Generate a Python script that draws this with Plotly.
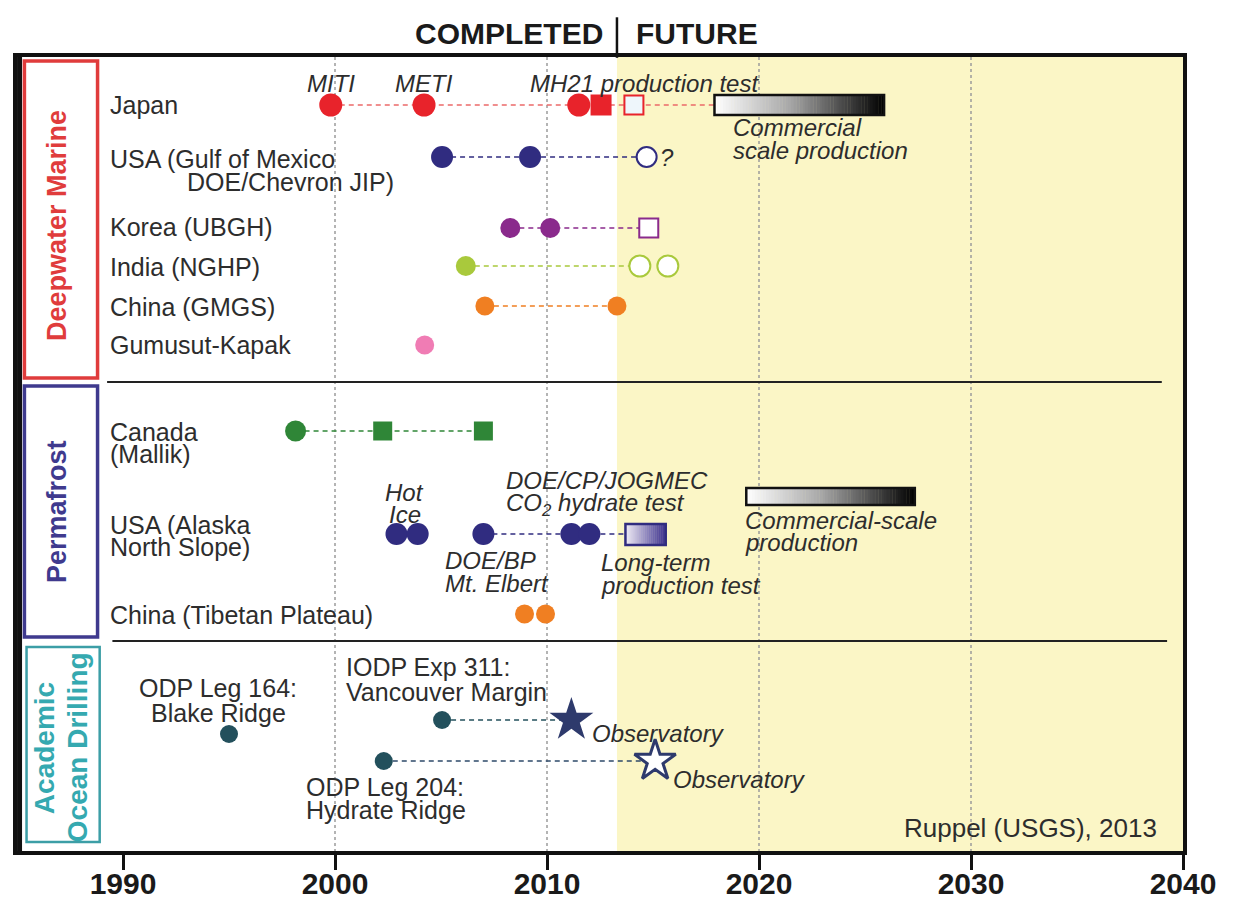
import numpy as np
import plotly.graph_objects as go

# ---------------------------------------------------------------- data (years)
japan_done = [1999.8, 2004.2, 2011.5]
japan_done_sq = [2012.55]
japan_planned_sq = [2014.1]
japan_commercial = [2017.9, 2025.9]

gom_done = [2005.05, 2009.2]
gom_planned = [2014.7]

korea_done = [2008.27, 2010.15]
korea_planned_sq = [2014.8]

india_done = [2006.17]
india_planned = [2014.38, 2015.7]

china_gmgs_done = [2007.07, 2013.3]
gumusut_done = [2004.23]

canada_done = [1998.14]
canada_done_sq = [2002.25, 2007.0]

alaska_hot_ice = [2002.9, 2003.9]
alaska_done = [2007.0, 2011.15, 2012.0]
alaska_longterm = [2013.7, 2015.6]
alaska_commercial = [2019.4, 2027.35]

tibet_done = [2008.94, 2009.93]

blake_ridge_done = [1995.0]
vancouver_done = [2005.05]
vancouver_obs = [2011.15]
hydrate_ridge_done = [2002.3]
hydrate_ridge_obs = [2015.1]

future_start = 2013.3
year_ticks = [1990, 2000, 2010, 2020, 2030, 2040]
grid_years = [2000, 2010, 2020, 2030]

# ---------------------------------------------------------------- layout: lanes
# vertical lane positions (axis runs top-down, 57 = top of the frame)
LANE = {
    "japan": 105, "gom": 157, "korea": 228, "india": 266, "china": 306,
    "gumusut": 345, "canada": 431, "alaska": 534, "tibet": 614,
    "blake": 734, "vancouver": 720, "hydrate": 761,
}

FONT = "Liberation Sans, Arial, sans-serif"
TXT = "#2d2d2d"

RED = "#e8232b"
NAVY = "#302c80"
PURPLE = "#8a2a8c"
LIME = "#a9c93c"
ORANGE = "#f07f22"
PINK = "#f07cb4"
GREEN = "#2f8637"
TEAL_DARK = "#23505c"
STAR = "#2e3a6c"
YELLOW = "#fbf6c6"
DASH = "5px,4px"

fig = go.Figure()

# future half of the timeline
fig.add_trace(go.Scatter(
    x=[future_start, 2040, 2040, future_start, future_start],
    y=[57, 57, 851, 851, 57], mode="lines", fill="toself",
    fillcolor=YELLOW, line=dict(width=0), hoverinfo="skip", showlegend=False))
# dotted decade grid
for g in grid_years:
    fig.add_trace(go.Scatter(
        x=[g, g], y=[57, 851], mode="lines",
        line=dict(color="#9c9c9c", width=1.5, dash="dot"),
        hoverinfo="skip", showlegend=False))


def connector(xs, lane, color, width=1.6):
    fig.add_trace(go.Scatter(
        x=xs, y=[LANE[lane]] * len(xs), mode="lines",
        line=dict(color=color, width=width, dash=DASH),
        hoverinfo="skip", showlegend=False))


def dots(xs, lane, color, symbol="circle", size=21, fill=None, lw=0):
    fig.add_trace(go.Scatter(
        x=xs, y=[LANE[lane]] * len(xs), mode="markers",
        marker=dict(symbol=symbol, size=size, color=fill or color,
                    line=dict(color=color, width=lw)),
        hoverinfo="x", showlegend=False))


def hex_rgb(h):
    h = h.lstrip("#")
    return np.array([int(h[i:i + 2], 16) for i in (0, 2, 4)], dtype=float)


def ramp_color(stops, t):
    for (t0, c0), (t1, c1) in zip(stops[:-1], stops[1:]):
        if t <= t1:
            f = (t - t0) / (t1 - t0) if t1 > t0 else 0
            c = hex_rgb(c0) * (1 - f) + hex_rgb(c1) * f
            return "rgb(%d,%d,%d)" % tuple(np.round(c))
    return stops[-1][1]


shapes = []


def gradient_bar(x_edges, y0, y1, stops, border, bw=2.5, n=60):
    """Horizontal colour ramp drawn as thin slices, then outlined."""
    edges = np.linspace(x_edges[0], x_edges[1], n + 1)
    for i in range(n):
        col = ramp_color(stops, (i + 0.5) / n)
        shapes.append(dict(type="rect", xref="x", yref="y", x0=edges[i],
                           x1=edges[i + 1] + 0.02, y0=y0, y1=y1, fillcolor=col,
                           line=dict(width=0), layer="above"))
    shapes.append(dict(type="rect", xref="x", yref="y", x0=x_edges[0], x1=x_edges[1],
                       y0=y0, y1=y1, line=dict(color=border, width=bw), layer="above"))


# ---------------------------------------------------------------- connectors
connector([japan_done[0], japan_commercial[0]], "japan", "#ec6a6a")
connector([gom_done[0], gom_planned[-1]], "gom", NAVY)
connector([korea_done[0], korea_planned_sq[-1]], "korea", PURPLE)
connector([india_done[0], india_planned[0]], "india", LIME)
connector([china_gmgs_done[0], china_gmgs_done[-1]], "china", ORANGE)
connector([canada_done[0], canada_done_sq[-1]], "canada", GREEN)
connector([alaska_done[0], alaska_longterm[0]], "alaska", NAVY)
connector([vancouver_done[0], vancouver_obs[0]], "vancouver", TEAL_DARK)
connector([hydrate_ridge_done[0], hydrate_ridge_obs[0]], "hydrate", "#2e4a6a")

# ---------------------------------------------------------------- gradient bars
gray_stops = [(0, "#ffffff"), (0.45, "#a6a6a6"), (1, "#000000")]
gradient_bar(japan_commercial, 95, 115, gray_stops, "#111111")
gradient_bar(alaska_commercial, 488, 505, gray_stops, "#111111")
gradient_bar(alaska_longterm, 524, 545, [(0, "#f0ecf8"), (1, "#3a2f8c")], NAVY)

# ---------------------------------------------------------------- markers
dots(japan_done, "japan", RED, size=23)
dots(japan_done_sq, "japan", RED, symbol="square", size=21)
dots(japan_planned_sq, "japan", RED, symbol="square", size=19, fill="#eef6fb", lw=2)

dots(gom_done, "gom", NAVY, size=22)
dots(gom_planned, "gom", NAVY, size=20, fill="white", lw=2)

dots(korea_done, "korea", PURPLE, size=20)
dots(korea_planned_sq, "korea", PURPLE, symbol="square", size=19, fill="white", lw=2)

dots(india_done, "india", LIME, size=20)
dots(india_planned, "india", LIME, size=21, fill="white", lw=2)

dots(china_gmgs_done, "china", ORANGE, size=19)
dots(gumusut_done, "gumusut", PINK, size=19)

dots(canada_done, "canada", GREEN, size=21)
dots(canada_done_sq, "canada", GREEN, symbol="square", size=19)

dots(alaska_hot_ice, "alaska", NAVY, size=22)
dots(alaska_done, "alaska", NAVY, size=22)

dots(tibet_done, "tibet", ORANGE, size=19)

dots(blake_ridge_done, "blake", TEAL_DARK, size=18)
dots(vancouver_done, "vancouver", TEAL_DARK, size=18)
dots(hydrate_ridge_done, "hydrate", TEAL_DARK, size=18)
dots(vancouver_obs, "vancouver", STAR, symbol="star", size=33)
dots(hydrate_ridge_obs, "hydrate", STAR, symbol="star", size=31, fill="white", lw=3)

# ---------------------------------------------------------------- other shapes
# section separators
shapes.append(dict(type="line", xref="x", yref="y", x0=1989.25, x1=2039.0, y0=382, y1=382,
                   line=dict(color="#222", width=2)))
shapes.append(dict(type="line", xref="x", yref="y", x0=1989.5, x1=2039.25, y0=641, y1=641,
                   line=dict(color="#222", width=2)))
# section boxes
shapes.append(dict(type="rect", xref="x", yref="y", x0=1985.35, x1=1988.8, y0=61, y1=378,
                   line=dict(color="#e03c3c", width=3.5), fillcolor="white"))
shapes.append(dict(type="rect", xref="x", yref="y", x0=1985.35, x1=1988.8, y0=386, y1=637,
                   line=dict(color="#3f3a8e", width=3.5), fillcolor="white"))
shapes.append(dict(type="rect", xref="x", yref="y", x0=1985.45, x1=1988.9, y0=647, y1=842,
                   line=dict(color="#3c9ea6", width=2.5), fillcolor="white"))
# heavier left edge of the frame
shapes.append(dict(type="line", xref="x", yref="paper", x0=1985.12, x1=1985.12, y0=0, y1=1,
                   line=dict(color="#111", width=5)))
# COMPLETED | FUTURE divider
shapes.append(dict(type="line", xref="x", yref="paper", x0=future_start, x1=future_start,
                   y0=0.999, y1=1.05, line=dict(color="#111", width=2.5)))

ann = []


def note(x, y, lines, size=25, italic=False, xanchor="left", color=TXT,
         pitch=23, **kw):
    """One annotation per text line, so line spacing can be set freely."""
    if isinstance(lines, str):
        lines = [lines]
    for i, t in enumerate(lines):
        ann.append(dict(x=x, y=y + i * pitch, xref="x", yref="y", text=t,
                        showarrow=False, xanchor=xanchor, yanchor="middle",
                        font=dict(family=FONT, size=size, color=color,
                                  style="italic" if italic else "normal"), **kw))


# row labels
note(1989.3, 105, "Japan")
note(1989.3, 159, "USA (Gulf of Mexico")
note(1992.94, 182, "DOE/Chevron JIP)")
note(1989.3, 227, "Korea (UBGH)")
note(1989.3, 267, "India (NGHP)")
note(1989.3, 307, "China (GMGS)")
note(1989.3, 345, "Gumusut-Kapak")
note(1989.3, 432, ["Canada", "(Mallik)"], pitch=22)
note(1989.3, 525, ["USA (Alaska", "North Slope)"], pitch=22)
note(1989.3, 615, "China (Tibetan Plateau)")

# section titles
note(1986.89, 226, "<b>Deepwater Marine</b>", size=27, xanchor="center",
     color="#e03c3c", textangle=-90)
note(1986.89, 512, "<b>Permafrost</b>", size=27, xanchor="center",
     color="#3f3a8e", textangle=-90)
note(1986.28, 748, "<b>Academic</b>", size=28, xanchor="center",
     color="#35a9b0", textangle=-90)
note(1987.84, 747, "<b>Ocean Drilling</b>", size=28, xanchor="center",
     color="#35a9b0", textangle=-90)

# event notes
note(1999.79, 83, "MITI", italic=True, xanchor="center", size=24)
note(2004.19, 83, "METI", italic=True, xanchor="center", size=24)
note(2009.1, 83, "MH21 production test", italic=True, size=24)
note(2018.7, 127, ["Commercial", "scale production"], italic=True, size=24, pitch=23)
note(2015.25, 157, "?", italic=True, size=24)
note(2003.29, 492, ["Hot", "Ice"], italic=True, xanchor="center", size=24, pitch=22)
note(2007.97, 480, ["DOE/CP/JOGMEC", "CO<sub>2</sub> hydrate test"], italic=True,
     size=24, pitch=24)
note(2005.09, 560, ["DOE/BP", "Mt. Elbert"], italic=True, size=24)
note(2012.46, 562, ["Long-term", "production test"], italic=True, size=24)
note(2019.26, 520, ["Commercial-scale", "production"], italic=True, size=24, pitch=22)
note(1994.5, 688, ["ODP Leg 164:", "Blake Ridge"], xanchor="center", pitch=25)
note(2000.41, 667, ["IODP Exp 311:", "Vancouver Margin"], pitch=25)
note(2012.03, 733, "Observatory", italic=True, size=24)
note(2015.86, 779, "Observatory", italic=True, size=24)
note(1998.52, 787, ["ODP Leg 204:", "Hydrate Ridge"], pitch=23)
note(2038.88, 828, "Ruppel (USGS), 2013", size=26, xanchor="right")

# header
ann.append(dict(x=2012.74, y=1.03, xref="x", yref="paper", text="<b>COMPLETED</b>",
                showarrow=False, xanchor="right", yanchor="middle",
                font=dict(family=FONT, size=30, color="#1a1a1a")))
ann.append(dict(x=2014.11, y=1.03, xref="x", yref="paper", text="<b>FUTURE</b>",
                showarrow=False, xanchor="left", yanchor="middle",
                font=dict(family=FONT, size=30, color="#1a1a1a")))

fig.update_layout(
    width=1251, height=903,
    margin=dict(l=17, r=68, t=57, b=52, autoexpand=False),
    paper_bgcolor="white", plot_bgcolor="white",
    shapes=shapes, annotations=ann, showlegend=False,
    xaxis=dict(range=[1985, 2040], tickvals=year_ticks, ticks="outside", ticklen=15,
               tickwidth=3, tickcolor="#111", showgrid=False, zeroline=False,
               showline=True, linecolor="#111", linewidth=4, mirror=True,
               automargin=False, ticklabelstandoff=-12,
               tickfont=dict(family=FONT, size=30, color="#1a1a1a", weight="bold")),
    yaxis=dict(range=[851, 57], showticklabels=False, ticks="", showgrid=False,
               zeroline=False, showline=True, linecolor="#111", linewidth=4, mirror=True,
               automargin=False),
)

fig.write_html("out.html")
